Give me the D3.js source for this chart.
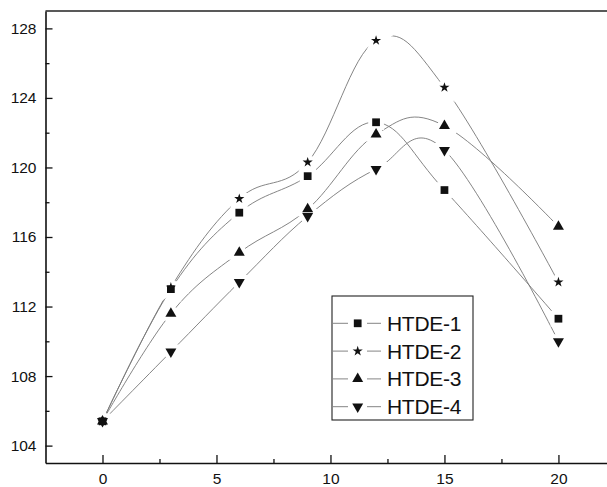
<!DOCTYPE html>
<html>
<head>
<meta charset="utf-8">
<script src="https://cdn.jsdelivr.net/npm/d3@7"></script>
<style>
  body { margin: 0; background: #fff; }
  svg { display: block; font-family: "Liberation Sans", Arial, sans-serif; }
  .tick text { font-size: 15.5px; fill: #111; }
</style>
</head>
<body>
<svg id="chart" width="607" height="487"></svg>
<script>
var xValues = [0, 3, 6, 9, 12, 15, 20];
var htde1 = [105.4, 113.0, 117.4, 119.5, 122.6, 118.7, 111.3];
var htde2 = [105.4, 113.1, 118.2, 120.3, 127.3, 124.6, 113.4];
var htde3 = [105.4, 111.6, 115.1, 117.6, 121.9, 122.4, 116.6];
var htde4 = [105.4, 109.4, 113.4, 117.2, 119.9, 121.0, 110.0];
var seriesNames = ['HTDE-1', 'HTDE-2', 'HTDE-3', 'HTDE-4'];
var yTicks = [104, 108, 112, 116, 120, 124, 128];
var xTicks = [0, 5, 10, 15, 20];

var svg = d3.select("#chart"),
    width = +svg.attr("width"),
    height = +svg.attr("height"),
    margin = {top: 11, left: 45.5, bottom: 24};

var x = d3.scaleLinear().domain([-2.5, 22.13]).range([margin.left, width]);
var y = d3.scaleLinear().domain([103, 129]).range([height - margin.bottom, margin.top]);

var series = [htde1, htde2, htde3, htde4].map(function(vals, i) {
    return {name: seriesNames[i], points: xValues.map((d, j) => ({x: d, y: vals[j]}))};
});

// marker shapes
var shapes = [
    {type: d3.symbolSquare, size: 60, rot: 0},
    {type: d3.symbolStar, size: 32, rot: 0},
    {type: d3.symbolTriangle, size: 52, rot: 0},
    {type: d3.symbolTriangle, size: 52, rot: 180}
];

// minor ticks
svg.append("g")
    .attr("transform", `translate(${margin.left},0)`)
    .call(d3.axisLeft(y).tickValues(d3.range(106, 129, 4)).tickSize(-4).tickSizeOuter(0).tickFormat(""))
    .call(g => g.select(".domain").remove())
    .selectAll("line").attr("stroke", "#111").attr("stroke-width", 1.3);

svg.append("g")
    .attr("transform", `translate(0,${y(103)})`)
    .call(d3.axisBottom(x).tickValues([2.5, 7.5, 12.5, 17.5]).tickSize(-4).tickSizeOuter(0).tickFormat(""))
    .call(g => g.select(".domain").remove())
    .selectAll("line").attr("stroke", "#111").attr("stroke-width", 1.3);

// major axes
var yAxis = svg.append("g")
    .attr("transform", `translate(${margin.left},0)`)
    .call(d3.axisLeft(y).tickValues(yTicks).tickSize(-7).tickSizeOuter(0).tickPadding(9));

var xAxis = svg.append("g")
    .attr("transform", `translate(0,${y(103)})`)
    .call(d3.axisBottom(x).tickValues(xTicks).tickSize(-8).tickSizeOuter(0).tickPadding(10));

[yAxis, xAxis].forEach(function(g) {
    g.select(".domain").attr("stroke", "#111").attr("stroke-width", 1.6);
    g.selectAll(".tick line").attr("stroke", "#111").attr("stroke-width", 1.3);
});

// top frame line
svg.append("line")
    .attr("x1", margin.left).attr("x2", width)
    .attr("y1", y(129)).attr("y2", y(129))
    .attr("stroke", "#222").attr("stroke-width", 1.6);

var line = d3.line()
    .x(d => x(d.x))
    .y(d => y(d.y))
    .curve(d3.curveCardinal.tension(-0.1));

svg.append("g").selectAll("path")
    .data(series)
    .enter().append("path")
    .attr("d", d => line(d.points))
    .attr("fill", "none")
    .attr("stroke", "#777")
    .attr("stroke-width", 0.9);

// white halo first so lines break near markers
var sym = function(i) { return d3.symbol().type(shapes[i].type).size(shapes[i].size)(); };

series.forEach(function(s, i) {
    svg.append("g").selectAll("path")
        .data(s.points)
        .enter().append("path")
        .attr("d", sym(i))
        .attr("transform", d => `translate(${x(d.x)},${y(d.y)}) rotate(${shapes[i].rot})`)
        .attr("fill", "#fff")
        .attr("stroke", "#fff")
        .attr("stroke-width", 8);
});

series.forEach(function(s, i) {
    svg.append("g").selectAll("path")
        .data(s.points)
        .enter().append("path")
        .attr("d", sym(i))
        .attr("transform", d => `translate(${x(d.x)},${y(d.y)}) rotate(${shapes[i].rot})`)
        .attr("fill", "#111");
});

// legend
var legend = svg.append("g").attr("transform", "translate(332,296)");
legend.append("rect")
    .attr("width", 141).attr("height", 124)
    .attr("fill", "#fff").attr("stroke", "#222").attr("stroke-width", 1.1);

var items = legend.selectAll(".item")
    .data(series)
    .enter().append("g")
    .attr("class", "item")
    .attr("transform", (d, i) => `translate(0,${27.3 + i * 27.8})`);

items.append("line").attr("x1", 1).attr("x2", 16).attr("stroke", "#777").attr("stroke-width", 0.9);
items.append("line").attr("x1", 35).attr("x2", 49).attr("stroke", "#777").attr("stroke-width", 0.9);
items.append("path")
    .attr("d", (d, i) => sym(i))
    .attr("transform", (d, i) => `translate(25.7,0) rotate(${shapes[i].rot})`)
    .attr("fill", "#111");
items.append("text")
    .attr("x", 55)
    .attr("y", 7.5)
    .attr("font-size", 21)
    .attr("letter-spacing", -0.3)
    .attr("fill", "#111")
    .text(d => d.name);
</script>
</body>
</html>
